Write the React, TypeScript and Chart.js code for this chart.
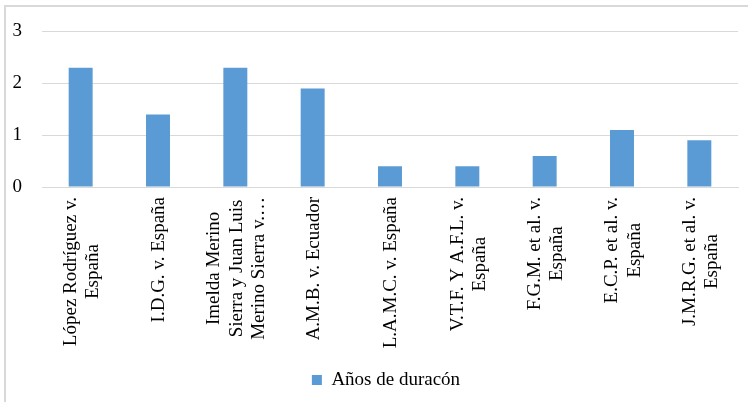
import { useEffect, useRef } from "react";
import { Chart, registerables } from "chart.js";

Chart.register(...registerables);

// Case names, one entry per bar; inner arrays are the wrapped lines of each label
const categories: string[][] = [
  ["López Rodríguez v.", "España"],
  ["I.D.G. v. España"],
  ["Imelda Merino", "Sierra y Juan Luis", "Merino Sierra v.…"],
  ["A.M.B. v. Ecuador"],
  ["L.A.M.C. v. España"],
  ["V.T.F. Y A.F.L. v.", "España"],
  ["F.G.M. et al. v.", "España"],
  ["E.C.P. et al. v.", "España"],
  ["J.M.R.G. et al. v.", "España"],
];

const seriesName = "Años de duracón";
const years = [2.3, 1.4, 2.3, 1.9, 0.4, 0.4, 0.6, 1.1, 0.9];

const yMin = 0;
const yMax = 3;
const yStep = 1;

const FONT = '"Liberation Serif", "Times New Roman", serif';
const FONT_SIZE = 19;
const LINE_GAP = 22.5;
const BAR_COLOR = "#5b9bd5";
const GRID_COLOR = "#d9d9d9";

// Category labels drawn vertically, with each label's lines centred on one another
const verticalLabels = {
  id: "verticalLabels",
  beforeDraw(chart: any) {
    // centre the legend under the plot area rather than the whole canvas
    const legend = chart.legend;
    if (legend) {
      legend.left = chart.chartArea.left - 8;
      legend.width = legend.right - legend.left;
    }
  },
  afterDraw(chart: any) {
    const xs = chart.scales.x;
    const ctx: CanvasRenderingContext2D = chart.ctx;
    ctx.save();
    ctx.font = `${FONT_SIZE}px ${FONT}`;
    ctx.fillStyle = "#000";
    ctx.textAlign = "center";
    ctx.textBaseline = "middle";
    categories.forEach((lines, i) => {
      const px = xs.getPixelForValue(i) + 1.5;
      const top = xs.top + 10;
      const maxW = Math.max(...lines.map((l) => ctx.measureText(l).width));
      ctx.save();
      ctx.translate(px, top);
      ctx.rotate(-Math.PI / 2);
      lines.forEach((line, j) => {
        ctx.fillText(line, -maxW / 2, (j - (lines.length - 1) / 2) * LINE_GAP);
      });
      ctx.restore();
    });
    ctx.restore();
  },
};

export default function App() {
  const canvasRef = useRef<HTMLCanvasElement | null>(null);

  useEffect(() => {
    if (!canvasRef.current) return;
    const chart = new Chart(canvasRef.current, {
      type: "bar",
      data: {
        labels: categories,
        datasets: [
          {
            label: seriesName,
            data: years,
            backgroundColor: BAR_COLOR,
            borderWidth: 0,
            categoryPercentage: 1,
            barPercentage: 0.31,
          },
        ],
      },
      options: {
        responsive: false,
        animation: false,
        layout: { padding: { left: 0, right: 10, top: 26, bottom: 2.5 } },
        plugins: {
          tooltip: { enabled: false },
          legend: {
            position: "bottom",
            labels: {
              boxWidth: 10,
              boxHeight: 10,
              padding: 10,
              color: "#000",
              font: { family: FONT, size: FONT_SIZE },
            },
          },
        },
        scales: {
          x: {
            grid: { display: false, drawTicks: false },
            border: { display: true, color: GRID_COLOR, width: 1 },
            ticks: { display: false, autoSkip: false },
            afterFit: (scale: any) => {
              scale.height = 173.5;
            },
          },
          y: {
            min: yMin,
            max: yMax,
            grid: { color: GRID_COLOR, drawTicks: false },
            border: { display: false },
            ticks: {
              stepSize: yStep,
              padding: 20,
              color: "#000",
              font: { family: FONT, size: FONT_SIZE },
            },
            afterFit: (scale: any) => {
              scale.width = 42;
            },
          },
        },
      },
      plugins: [verticalLabels],
    });
    return () => chart.destroy();
  }, []);

  return (
    <div
      style={{
        position: "fixed",
        left: 0,
        top: 0,
        width: 748,
        height: 402,
        overflow: "hidden",
        background: "#fff",
      }}
    >
      <div
        style={{
          position: "absolute",
          left: 4,
          top: 5,
          width: 800,
          height: 500,
          border: `2px solid ${GRID_COLOR}`,
        }}
      />
      <canvas
        ref={canvasRef}
        width={748}
        height={402}
        style={{ position: "absolute", left: 0, top: 0 }}
      />
    </div>
  );
}
